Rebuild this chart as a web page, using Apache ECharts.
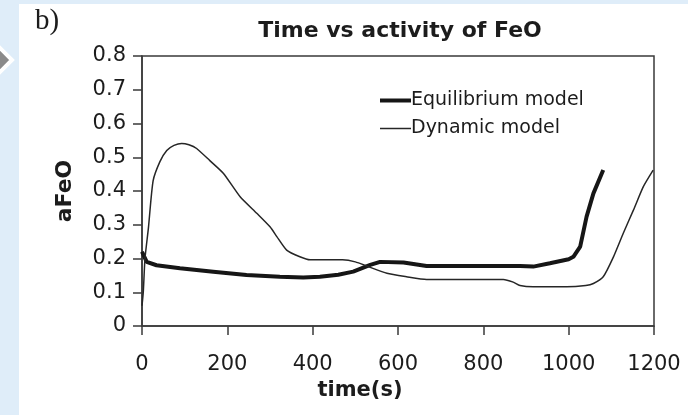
<!DOCTYPE html>
<html>
<head>
<meta charset="utf-8">
<script src="https://cdn.jsdelivr.net/npm/echarts@6/dist/echarts.min.js"></script>
<style>
  html, body { margin: 0; padding: 0; background: #dfedf9; }
  #box { width: 688px; height: 415px; }
</style>
</head>
<body>
<div id="box"></div>
<script>
// time (s) and aFeO
const dynTime = [0, 3, 7, 15, 26, 42, 58, 75, 93, 110, 128, 159, 191, 230, 269, 300, 316, 339, 370, 394, 470, 500, 530, 574, 620, 667, 847, 870, 886, 917, 995, 1040, 1058, 1081, 1105, 1128, 1152, 1175, 1198];
const dynValue = [0.06, 0.1, 0.2, 0.29, 0.43, 0.487, 0.52, 0.535, 0.541, 0.537, 0.526, 0.49, 0.452, 0.383, 0.334, 0.294, 0.265, 0.225, 0.205, 0.196, 0.196, 0.19, 0.176, 0.156, 0.146, 0.138, 0.138, 0.13, 0.12, 0.116, 0.116, 0.12, 0.126, 0.146, 0.205, 0.275, 0.344, 0.413, 0.462];
const eqTime = [0, 11, 34, 89, 167, 245, 323, 378, 417, 460, 495, 535, 558, 613, 667, 886, 917, 956, 1000, 1011, 1027, 1042, 1058, 1081];
const eqValue = [0.22, 0.19, 0.18, 0.171, 0.161, 0.151, 0.146, 0.144, 0.146, 0.152, 0.161, 0.181, 0.19, 0.188, 0.178, 0.178, 0.176, 0.186, 0.198, 0.205, 0.235, 0.324, 0.393, 0.462];
const seriesNames = ['Equilibrium model', 'Dynamic model'];

const font = 'DejaVu Sans';
const ink = '#1c1c1c';

const chart = echarts.init(document.getElementById('box'));
chart.setOption({
  animation: false,
  backgroundColor: '#dfedf9',
  title: {
    text: 'Time vs activity of FeO',
    left: 395,
    textAlign: 'center',
    top: 15,
    textStyle: { fontFamily: font, fontSize: 22, fontWeight: 'bold', color: ink }
  },
  graphic: [
    { type: 'rect', z: -10, shape: { x: 19, y: 4, width: 669, height: 411 }, style: { fill: '#ffffff' } },
    { type: 'polygon', shape: { points: [[-12, 36], [12, 60], [-12, 84]] }, style: { fill: '#8a8a8a', stroke: '#ffffff', lineWidth: 4 } },
    { type: 'text', left: 35, top: 7, style: { text: 'b)', font: '29px "Liberation Serif"', fill: ink } }
  ],
  legend: {
    orient: 'vertical',
    left: 375,
    top: 86,
    itemWidth: 31,
    itemHeight: 14,
    itemGap: 9,
    textStyle: { fontFamily: font, fontSize: 19, color: ink, padding: [0, 0, 0, -5] },
    data: [
      { name: seriesNames[0], icon: 'path://M0,0L31,0L31,4L0,4Z' },
      { name: seriesNames[1], icon: 'path://M0,0L31,0L31,1.5L0,1.5Z' }
    ]
  },
  grid: { left: 142, right: 34, top: 56, bottom: 89, show: true, borderColor: '#3a3a3a', borderWidth: 1.5 },
  xAxis: {
    type: 'value',
    min: 0, max: 1200, interval: 200,
    name: 'time(s)',
    nameLocation: 'middle',
    nameGap: 53,
    nameTextStyle: { fontFamily: font, fontSize: 21, fontWeight: 'bold', color: ink, padding: [0, 76, 0, 0] },
    axisLine: { lineStyle: { color: '#3a3a3a', width: 1.5 } },
    axisTick: { inside: false, length: 9, lineStyle: { color: '#3a3a3a', width: 1.5 } },
    axisLabel: { margin: 28, fontFamily: font, fontSize: 21, color: ink, formatter: v => String(v) },
    splitLine: { show: false }
  },
  yAxis: {
    type: 'value',
    min: 0, max: 0.8, interval: 0.1,
    name: 'aFeO',
    nameLocation: 'middle',
    nameRotate: 90,
    nameGap: 66,
    nameTextStyle: { fontFamily: font, fontSize: 22, fontWeight: 'bold', color: ink },
    axisLine: { show: true, lineStyle: { color: '#3a3a3a', width: 1.5 } },
    axisTick: { show: true, inside: false, length: 9, lineStyle: { color: '#3a3a3a', width: 1.5 } },
    axisLabel: { margin: 16, fontFamily: font, fontSize: 21, color: ink },
    splitLine: { show: false }
  },
  series: [
    {
      name: seriesNames[0],
      type: 'line',
      symbol: 'none',
      data: eqTime.map((t, i) => [t, eqValue[i]]),
      lineStyle: { color: '#161616', width: 4 },
      itemStyle: { color: '#161616' }
    },
    {
      name: seriesNames[1],
      type: 'line',
      symbol: 'none',
      smooth: 0.2,
      data: dynTime.map((t, i) => [t, dynValue[i]]),
      lineStyle: { color: '#262626', width: 1.5 },
      itemStyle: { color: '#262626' }
    }
  ]
});
</script>
</body>
</html>
